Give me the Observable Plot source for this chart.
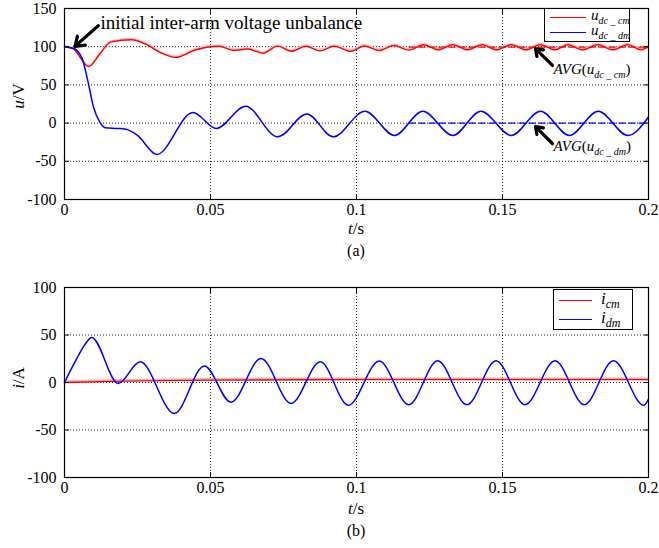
<!DOCTYPE html>
<html><head><meta charset="utf-8">
<script src="https://cdn.jsdelivr.net/npm/d3@7"></script>
<script src="https://cdn.jsdelivr.net/npm/@observablehq/plot@0.6"></script>
<style>
body{margin:0;background:#fff;font-family:"Liberation Serif";color:#000;}
#wrap{position:relative;width:659px;height:548px;}
#gap{height:20px;}
.ov{position:absolute;white-space:nowrap;line-height:1;}
.c{transform:translate(-50%,-50%);}
.sub{font-size:10px;font-style:italic;position:relative;top:4px;}
.leg{position:absolute;border:1.5px solid #000;background:#fff;box-sizing:border-box;}
.sw{position:absolute;height:0;border-top:1.6px solid;}
</style>
</head><body><div id="wrap"><div id="pa"></div><div id="gap"></div><div id="pb"></div></div>
<script>
// ---- axes / ticks ----
const xTicks = [0, 0.05, 0.1, 0.15, 0.2];
const yTicksA = [-100, -50, 0, 50, 100, 150];
const yTicksB = [-100, -50, 0, 50, 100];

// ---- panel (a): u_dc_cm (red) ----
const ucmT = [0, 0.003, 0.0083, 0.012, 0.0158, 0.023, 0.028, 0.033, 0.038, 0.045, 0.0529, 0.058, 0.0627, 0.068, 0.073, 0.0776, 0.0827, 0.0875, 0.0923, 0.0981, 0.1026, 0.1077, 0.1128, 0.118, 0.123, 0.128, 0.133, 0.138, 0.143, 0.148, 0.153, 0.158, 0.163, 0.168, 0.1723, 0.1775, 0.1826, 0.1878, 0.1929, 0.1975, 0.2];
const ucmV = [100, 97, 74, 90, 106, 109, 103, 92, 86, 96, 100.5, 95, 97, 91.5, 100.7, 94, 100.5, 94.5, 100.5, 94, 101, 95, 101.5, 95.5, 102.5, 96, 102.5, 96, 102.5, 96, 102.5, 96, 102.5, 96, 102.5, 96, 102.5, 96, 102.5, 96, 100];
// ---- panel (a): u_dc_dm (blue) ----
const udmT = [0, 0.003, 0.006, 0.008, 0.010, 0.012, 0.014, 0.018, 0.021, 0.025, 0.0316, 0.044, 0.052, 0.062, 0.073, 0.083, 0.092, 0.1029, 0.113, 0.1227, 0.133, 0.1426, 0.153, 0.163, 0.1729, 0.1828, 0.1929, 0.2];
const udmV = [100, 98, 85, 55, 20, 2, -6, -7, -8, -16, -41, 14, -7, 22, -18, 12, -18, 15.6, -16.2, 15.6, -16.2, 15.6, -16.2, 15.6, -16.2, 15.6, -16.2, 8];
// averages (dashed)
const avgStart = 0.118, avgEnd = 0.2;
const avgCm = 99.5, avgDm = 0;

// ---- panel (b): i_cm (red), i_dm (blue) ----
const icmT = [0, 0.02, 0.05, 0.1, 0.2];
const icmV = [0, 1.5, 2.5, 3, 3];
const idmT = [0, 0.004, 0.007, 0.0093, 0.0184, 0.0259, 0.0376, 0.0479, 0.057, 0.0673, 0.0776, 0.0876, 0.0972, 0.1078, 0.1179, 0.1278, 0.1378, 0.1478, 0.1577, 0.168, 0.178, 0.188, 0.1984, 0.2];
const idmV = [0, 24, 40, 47.5, -1, 21.8, -32.7, 17.3, -20.7, 25.3, -22, 21.8, -23.9, 22.6, -23.5, 22.9, -23.5, 22.9, -23.5, 22.9, -23.5, 22.9, -24, -17.5];

// ---- annotations (data coordinates of panel a) ----
const noteText = "initial inter-arm voltage unbalance";
const noteAt = {x: 0.0123, y: 131.5};
const arrowsA = [
  {x1: 0.0116, y1: 127.6, x2: 0.0036, y2: 100.5},
  {x1: 0.1671, y1: 75.4, x2: 0.1613, y2: 97.6},
  {x1: 0.1671, y1: -26.7, x2: 0.1613, y2: -4.5}
];
const avgLabelAt = [{x: 0.1676, y: 62.3}, {x: 0.1676, y: -38.1}];

const zipTV = (T, V) => T.map((t, i) => ({t, v: V[i]}));
const RED = "#ff0000", BLUE = "#0000ff";

function panel({height, mt, mb, yDomain, yTicks, marks}) {
  const gridStyle = {stroke: "#000", strokeOpacity: 0.85, strokeDasharray: "1,2"};
  return Plot.plot({
    width: 659, height, marginTop: mt, marginBottom: mb, marginLeft: 64, marginRight: 11,
    x: {domain: [0, 0.2]},
    y: {domain: yDomain},
    marks: [
      Plot.gridX(xTicks, gridStyle),
      Plot.gridY(yTicks, gridStyle),
      ...marks,
      Plot.frame({stroke: "#000", strokeWidth: 1.2}),
      Plot.axisX(xTicks, {tickSize: 0, tickPadding: 4, tickFormat: d => String(d), label: null, fontSize: 16, fontFamily: "Liberation Serif"}),
      Plot.axisX(xTicks, {tickSize: -5, fill: "none", label: null}),
      Plot.axisX(xTicks, {anchor: "top", tickSize: -5, fill: "none", label: null}),
      Plot.axisY(yTicks, {tickSize: 0, tickPadding: 8, tickFormat: d => String(d), label: null, fontSize: 16, fontFamily: "Liberation Serif"}),
      Plot.axisY(yTicks, {tickSize: -5, fill: "none", label: null}),
      Plot.axisY(yTicks, {anchor: "right", tickSize: -5, fill: "none", label: null})
    ]
  });
}

const chartA = panel({
  height: 240, mt: 8, mb: 41, yDomain: [-100, 150], yTicks: yTicksA,
  marks: [
    Plot.line(zipTV(ucmT, ucmV), {x: "t", y: "v", stroke: "#fbc4c4", strokeWidth: 1.6, dy: -1.2, curve: "monotone-x"}),
    Plot.line(zipTV(ucmT, ucmV), {x: "t", y: "v", stroke: RED, strokeWidth: 1.4, curve: "monotone-x"}),
    Plot.line(zipTV(udmT, udmV), {x: "t", y: "v", stroke: BLUE, strokeWidth: 1.5, curve: "monotone-x"}),
    Plot.ruleY([avgCm], {x1: avgStart, x2: avgEnd, stroke: RED, strokeWidth: 1.3, strokeDasharray: "7,3"}),
    Plot.ruleY([avgDm], {x1: avgStart, x2: avgEnd, stroke: BLUE, strokeWidth: 1.3, strokeDasharray: "7,3"}),
    Plot.arrow(arrowsA, {x1: "x1", y1: "y1", x2: "x2", y2: "y2", stroke: "#000", strokeWidth: 3.2, headLength: 13, headAngle: 70}),
    Plot.text([noteAt], {x: "x", y: "y", text: () => noteText, textAnchor: "start", fontSize: 19, fill: "#000", fontFamily: "Liberation Serif"})
  ]
});

const chartB = panel({
  height: 260, mt: 27, mb: 43, yDomain: [-100, 100], yTicks: yTicksB,
  marks: [
    Plot.line(zipTV(icmT, icmV), {x: "t", y: "v", stroke: "#f8b4b4", strokeWidth: 2, dy: -1.2, curve: "monotone-x"}),
    Plot.line(zipTV(icmT, icmV), {x: "t", y: "v", stroke: RED, strokeWidth: 1.4, curve: "monotone-x"}),
    Plot.line(zipTV(idmT, idmV), {x: "t", y: "v", stroke: BLUE, strokeWidth: 1.5, curve: "monotone-x"})
  ]
});

document.getElementById("pa").appendChild(chartA);
document.getElementById("pb").appendChild(chartB);
const wrap = document.getElementById("wrap");
const topA = 0, topB = 260;

function ov(html, x, y, cls, size) {
  const d = document.createElement("div");
  d.className = "ov " + (cls || "");
  d.style.left = x + "px"; d.style.top = y + "px";
  d.style.fontSize = (size || 16) + "px";
  d.innerHTML = html;
  wrap.appendChild(d);
  return d;
}
const sxA = chartA.scale("x"), syA = chartA.scale("y");
const midX = (sxA.apply(0) + sxA.apply(0.2)) / 2;

// axis titles
ov("<i>t</i>/s", midX, topA + 228, "c", 17);
ov("(a)", midX, topA + 251, "c", 16);
ov("<i>t</i>/s", midX, topB + 248, "c", 17);
ov("(b)", midX, topB + 271, "c", 16);
const ya = ov("<i>u</i>/V", 18, topA + 96, "", 17);
ya.style.transform = "translate(-50%,-50%) rotate(-90deg)";
const yb = ov("<i>i</i>/A", 18, topB + 118, "", 17);
yb.style.transform = "translate(-50%,-50%) rotate(-90deg)";

// AVG labels
ov("<i>AVG</i>(<i>u</i><span class='sub'>dc _ cm</span>)", sxA.apply(avgLabelAt[0].x), topA + syA.apply(avgLabelAt[0].y) - 13, "", 15);
ov("<i>AVG</i>(<i>u</i><span class='sub'>dc _ dm</span>)", sxA.apply(avgLabelAt[1].x), topA + syA.apply(avgLabelAt[1].y) - 13, "", 15);

// legends
function legend(x, y, w, h, items, fs) {
  const b = document.createElement("div");
  b.className = "leg";
  b.style.left = x + "px"; b.style.top = y + "px"; b.style.width = w + "px"; b.style.height = h + "px";
  items.forEach(it => {
    const s = document.createElement("div");
    s.className = "sw";
    s.style.left = it.lx + "px"; s.style.top = it.ly + "px"; s.style.width = it.lw + "px";
    s.style.borderTopColor = it.color;
    b.appendChild(s);
    const t = document.createElement("div");
    t.className = "ov";
    t.style.left = it.tx + "px"; t.style.top = (it.ly - fs * 0.6) + "px"; t.style.fontSize = fs + "px";
    t.innerHTML = it.html;
    b.appendChild(t);
  });
  wrap.appendChild(b);
}
legend(544, topA + 8, 86, 34, [
  {color: RED, lx: 5, ly: 8, lw: 36, tx: 46, html: "<i>u</i><span class='sub'>dc _ cm</span>"},
  {color: BLUE, lx: 5, ly: 23, lw: 36, tx: 46, html: "<i>u</i><span class='sub'>dc _ dm</span>"}
], 15);
legend(553, topB + 29, 80, 41, [
  {color: RED, lx: 5, ly: 10, lw: 33, tx: 47, html: "<i>i</i><span class='sub' style='font-size:12px'>cm</span>"},
  {color: BLUE, lx: 5, ly: 29, lw: 33, tx: 47, html: "<i>i</i><span class='sub' style='font-size:12px'>dm</span>"}
], 17);
</script>
</body></html>
